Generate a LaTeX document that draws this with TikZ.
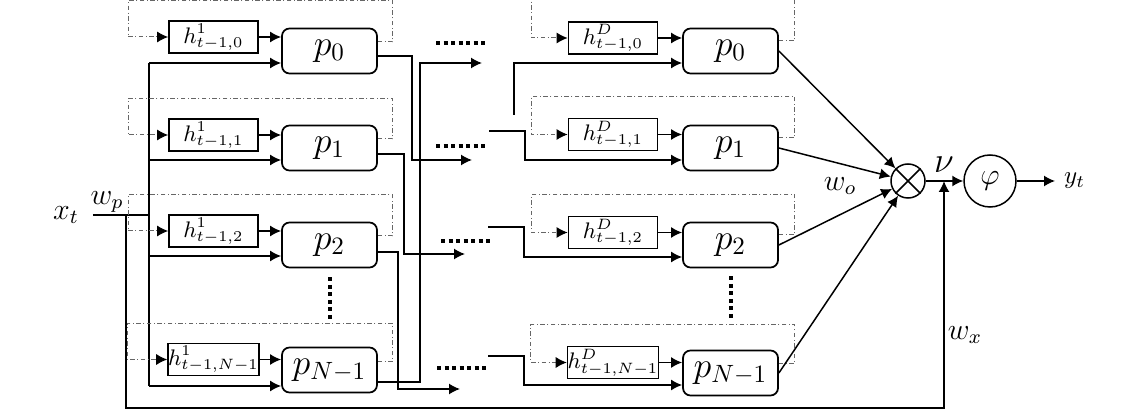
\documentclass[tikz,border=0pt]{standalone}
\usepackage{amsmath}
\usetikzlibrary{calc}
\usetikzlibrary{positioning}
\usetikzlibrary{arrows.meta}

\begin{document}
\begin{tikzpicture}[x=0.4pt, y=-0.4pt, line width=0.6pt,
        >={Latex[length=4.4pt,width=4.4pt]}]

        \tikzset{
            pbox/.style={draw, line width=0.7pt, rounded corners=3pt,
                minimum width=38pt, minimum height=18pt, inner sep=0pt,
                font=\Large},
            hbox/.style={draw, line width=0.7pt, minimum width=35.6pt,
                minimum height=12.8pt, inner sep=0pt, font=\small},
            fback/.style={black!60, line width=0.4pt,
                dash pattern=on 1.8pt off 1pt on 0.4pt off 1pt,
                -{Latex[length=4.4pt,width=4.4pt,color=black]}},
            dots/.style={line width=1.6pt, dash pattern=on 1.6pt off 1.4pt},
            lbl/.style={font=\large}
        }

        \useasboundingbox (0,0) rectangle (1125,412);

        % first layer and layer D
        \foreach \i/\s/\ya/\yh/\yd/\yg in {0/0/51/37/51/38,
            1/1/148/135/148/134.5, 2/2/245/231/245/232.5,
            3/N-1/370/359.5/373/362.5}
        {
            \node[pbox] (A\i) at (329.5,\ya) {$p_{\s}$};
            \node[hbox] (HA\i) at (213.5,\yh) {$h^1_{t-1,\s}$};
            \node[pbox] (D\i) at (730.5,\yd) {$p_{\s}$};
            \node[hbox] (HD\i) at (613,\yg) {$h^D_{t-1,\s}$};
        }

        \node[lbl] (X) at (66,215) {$x_t$};
        \node[lbl] (WP) at (107,202) {$w_p$};
        \node[draw, circle, minimum size=13.6pt, inner sep=0pt] (M)
        at (908,181) {};
        \node[draw, circle, minimum size=20.8pt, inner sep=0pt, lbl] (F)
        at (990,181) {$\varphi$};
        \node[anchor=west] (Y) at (1055,181) {$y_t$};
        \node[font=\Large] (V) at (944,165) {$\nu$};
        \node[lbl] (WO) at (840,186) {$w_o$};
        \node[lbl] (WX) at (965,335) {$w_x$};

        \coordinate (tap) at (126,215);
        \coordinate (bus) at (149,215);
        \coordinate (nu) at (944,181);
        \foreach \i/\y in {0/63, 1/160, 2/256, 3/386}
        \coordinate (B\i) at (149,\y);
        \coordinate (T0) at (482,63);
        \coordinate (T1) at (472,160);
        \coordinate (T2) at (465,254);
        \coordinate (T3) at (460,389);
        \coordinate (S0) at (514,115);
        \coordinate (S1) at (489,131);
        \coordinate (S2) at (488,227);
        \coordinate (S3) at (488,356);

        % input bus
        \draw ([xshift=2pt]X.east) -- (bus);
        \draw (B0) -- (B3);
        \foreach \i in {0,...,3}
        \draw[->] (B\i) -- (B\i -| A\i.west);

        % memory boxes and their loops
        \foreach \i in {0,...,3}
        {
            \draw[->] (HA\i.east) -- (HA\i.east -| A\i.west);
            \draw[->] (HD\i.east) -- (HD\i.east -| D\i.west);
            \draw[fback] ($(A\i.east)+(0,-9)$) -- ++(15,0)
            |- ($(HA\i.west)+(-40,-36)$) |- (HA\i.west);
            \draw[fback] ($(D\i.east)+(0,-10)$) -- ++(16,0)
            |- ($(HD\i.west)+(-36,-38)$) |- (HD\i.west);
        }

        % between the layers
        \draw[->] ($(A0.east)+(0,5)$) -- ++(34,0) |- (T1);
        \draw[->] ($(A1.east)+(0,6)$) -- ++(26,0) |- (T2);
        \draw[->] ($(A2.east)+(0,7)$) -- ++(20,0) |- (T3);
        \draw[->] ($(A3.east)+(0,12)$) -- ++(42,0) |- (T0);
        \foreach \i/\xa/\y in {0/436/43, 1/436/146, 2/441/241, 3/437/368}
        \draw[dots] (\xa,\y) -- ++(50,0);
        \draw[->] (S0) |- ($(D0.west)+(0,12)$);
        \foreach \i in {1,2,3}
        \draw[->] (S\i) -- ++(36,0) |- ($(D\i.west)+(0,12)$);

        \draw[dots] ($(A2.south)+(0,9)$) -- ++(0,42);
        \draw[dots] ($(D2.south)+(0,8)$) -- ++(0,43);

        % output
        \foreach \i in {0,...,3}
        \draw[->] (D\i.east) -- (M);
        \draw (M.45) -- (M.225) (M.135) -- (M.315);
        \draw[->] (M) -- (F);
        \draw[->] (F) -- (Y);
        \draw[->] (tap) -- ++(0,193) -| (nu);

\end{tikzpicture}
\end{document}
